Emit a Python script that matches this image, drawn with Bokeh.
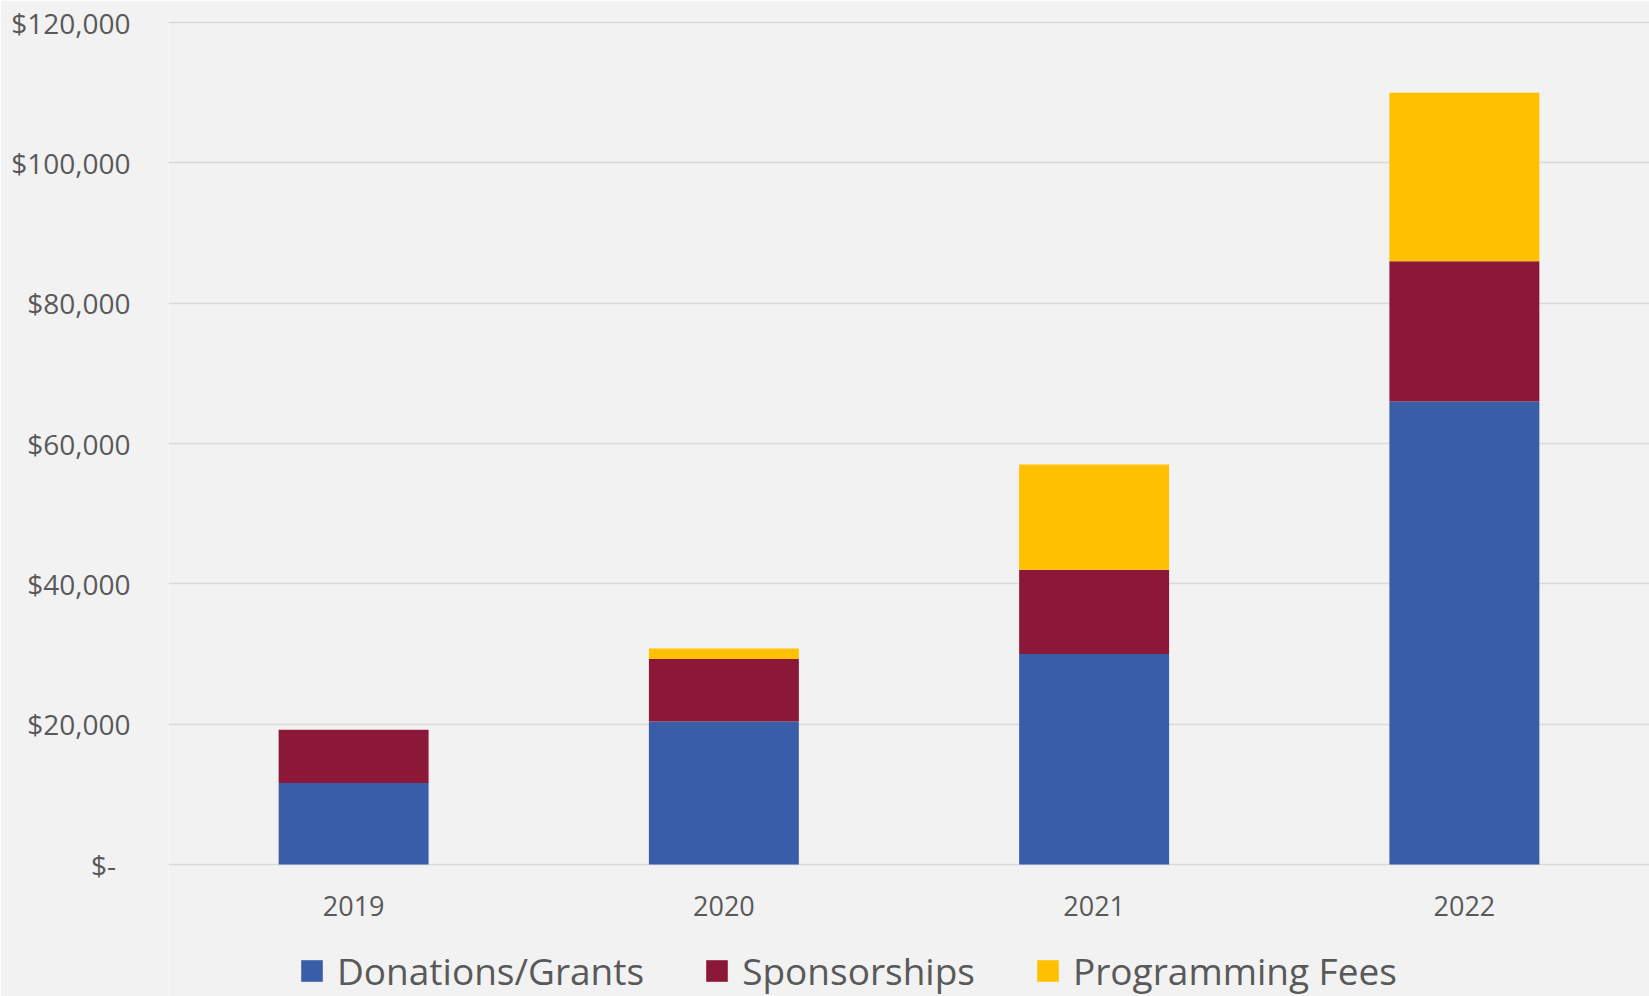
from bokeh.plotting import figure
from bokeh.models import ColumnDataSource, FixedTicker, Legend, FactorRange, Range1d
from bokeh.core.properties import value
from bokeh.embed import file_html
from bokeh.resources import INLINE

years = ["2019", "2020", "2021", "2022"]
donations = [11600, 20400, 30000, 66000]
sponsorships = [7600, 8900, 12000, 20000]
programming = [0, 1500, 15000, 24000]
series = ["Donations/Grants", "Sponsorships", "Programming Fees"]
colors = ["#3A5DA8", "#8B1838", "#FFC000"]
y_ticks = [0, 20000, 40000, 60000, 80000, 100000, 120000]
y_tick_labels = ["$-\u00a0\u00a0", "$20,000", "$40,000", "$60,000", "$80,000", "$100,000", "$120,000"]

FONT = "Open Sans"
TXT = "#595959"

# layout (pixels)
W, H = 1649, 996
TOP, ZERO_Y = 20, 864
Y_MAX = 120300
scale = (ZERO_Y - TOP) / Y_MAX
y_min = -(H - ZERO_Y) / scale

source = ColumnDataSource(dict(year=years, d=donations, s=sponsorships, p=programming,
                               base=[0] * len(years)))

p = figure(width=W, height=H, x_range=FactorRange(*years), y_range=Range1d(y_min, Y_MAX),
           output_backend="svg", toolbar_location=None,
           min_border_left=168, min_border_right=0, min_border_top=TOP, min_border_bottom=0,
           background_fill_color="#F2F2F2", border_fill_color="#F2F2F2", outline_line_color=None)

renderers = p.vbar_stack(["d", "s", "p"], x="year", width=0.405, source=source,
                         color=colors, line_color=None)

p.text(x="year", y="base", text="year", source=source, y_offset=41,
       text_align="center", text_baseline="middle", text_font=value(FONT),
       text_font_size="27px", text_color=TXT)

p.xaxis.visible = False
p.xgrid.grid_line_color = None
p.ygrid.grid_line_color = "#D9D9D9"
p.ygrid.grid_line_width = 1.5
p.yaxis.ticker = FixedTicker(ticks=y_ticks)
p.yaxis.major_label_overrides = {t: l for t, l in zip(y_ticks, y_tick_labels)}

ax = p.yaxis[0]
ax.axis_line_color = None
ax.major_tick_line_color = None
ax.minor_tick_line_color = None
ax.major_label_text_font = FONT
ax.major_label_text_font_size = "28px"
ax.major_label_text_color = TXT
ax.major_label_standoff = 32

legend = Legend(items=[(series[i], [renderers[i]]) for i in range(3)],
                orientation="horizontal", location=(130, 0),
                label_text_font=FONT, label_text_font_size="37px", label_text_color=TXT,
                glyph_width=27, glyph_height=27, label_standoff=12, spacing=59,
                border_line_color=None, background_fill_alpha=0, padding=2, margin=0)
p.add_layout(legend, "center")

open("out.html", "w").write(file_html(p, INLINE))
